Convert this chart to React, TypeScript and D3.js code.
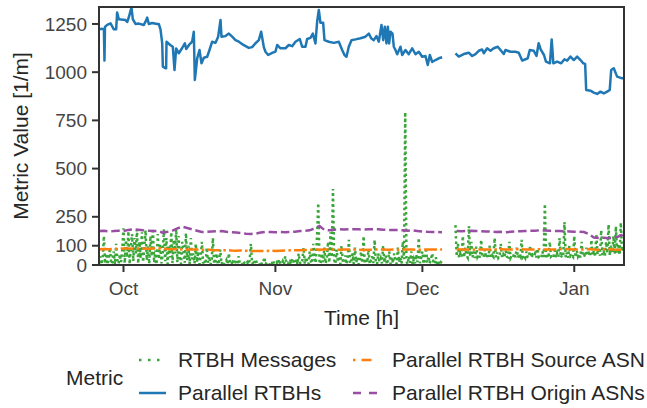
import React from 'react';
import * as d3 from 'd3';

const W = 647;
const H = 408;
const M = { left: 99, right: 23, top: 7, bottom: 143 };

const START = new Date(2022, 8, 26, 0, 0, 0);
const SPAN_DAYS = 107.15;
const DAY_MS = 86400000;

const yTickValues = [0, 100, 250, 500, 750, 1000, 1250];
const xTickLabels = ['Oct', 'Nov', 'Dec', 'Jan'];
const xTickDates = [new Date(2022, 9, 1), new Date(2022, 10, 1), new Date(2022, 11, 1), new Date(2023, 0, 1)];

// Parallel RTBHs: [day offset from START, value]
const parallelRtbhs: [number, number | null][] = [
  [0.05,1222],[0.6,1225],[1.0,1222],[1.12,1060],[1.22,1235],[1.67,1245],[2.35,1253],[3.03,1222],[3.5,1222],[3.7,1309],
  [4.05,1274],[5.4,1270],[5.75,1260],[6.09,1285],[6.63,1336],[6.9,1275],[7.45,1250],[8.13,1252],[9.15,1245],[9.49,1262],
  [9.83,1283],[10.17,1250],[10.85,1255],[11.87,1250],[12.2,1250],[12.55,1222],[12.9,1151],[13.03,1029],[13.57,1020],[13.7,1020],
  [13.78,1158],[14.6,1140],[15.07,1132],[15.41,1011],[15.75,1123],[16.29,1098],[16.84,1120],[17.52,1150],[17.8,1120],[18.33,1140],
  [19.01,1158],[19.35,1210],[19.56,960],[20.04,1072],[20.51,1115],[20.92,1046],[21.39,1075],[22.08,1080],[22.55,1115],[23.1,1158],
  [23.78,1152],[24.32,1184],[24.8,1271],[25.0,1184],[25.82,1187],[26.5,1200],[27.18,1184],[27.86,1166],[28.54,1158],[29.56,1140],
  [30.58,1126],[31.26,1130],[31.94,1150],[32.62,1166],[33.1,1210],[33.64,1130],[33.98,1106],[34.53,1089],[35.35,1100],[36.02,1107],
  [36.37,1141],[37.04,1124],[38.06,1124],[38.74,1141],[39.42,1135],[40.1,1158],[40.98,1172],[41.46,1132],[42.14,1132],[42.48,1172],
  [43.16,1178],[43.64,1200],[44.18,1149],[44.52,1262],[44.86,1323],[45.2,1256],[45.75,1256],[46.02,1166],[46.9,1158],[47.92,1152],
  [48.94,1158],[49.63,1115],[50.1,1089],[50.51,1080],[50.98,1132],[51.53,1166],[52.35,1170],[53.37,1176],[54.39,1184],[55.07,1200],
  [55.55,1176],[56.08,1166],[56.63,1187],[57.11,1158],[57.65,1245],[58.0,1166],[58.33,1236],[58.67,1149],[58.95,1236],[59.22,1149],
  [59.49,1210],[59.9,1200],[60.17,1132],[60.51,1115],[60.86,1093],[61.53,1132],[61.88,1089],[62.55,1115],[63.22,1093],[63.92,1124],
  [64.59,1093],[65.27,1106],[65.96,1080],[66.63,1084],[67.1,1037],[67.52,1089],[68.0,1053],[68.67,1063],[69.35,1072],[70.04,1077],
  [71.0,null],
  [72.76,1098],[73.43,1081],[74.45,1094],[75.47,1101],[76.16,1084],[76.84,1094],[77.51,1111],[78.2,1118],[78.54,1098],[79.22,1124],
  [79.9,1111],[80.57,1124],[81.39,1132],[81.94,1115],[82.61,1094],[82.96,1115],[83.98,1106],[85.0,1106],[85.67,1101],[86.37,1060],
  [87.04,1067],[87.5,1072],[87.92,1115],[88.73,1111],[89.29,1084],[89.73,1150],[90.14,1118],[90.82,1089],[91.22,1055],[92.04,1046],
  [92.39,1170],[92.73,1046],[93.5,1055],[94.33,1046],[95.0,1067],[95.55,1060],[96.22,1081],[96.9,1063],[97.59,1081],[98.27,1063],
  [98.82,1046],[99.22,1043],[99.43,908],[100.31,904],[100.98,894],[101.67,887],[102.35,899],[103.02,890],[103.71,899],[104.24,908],
  [104.53,1011],[105.06,1020],[105.75,977],[106.78,968],[107.15,970],
];

// RTBH Messages, one value every 6 hours from START (null = no data)
const GREEN_STEP_DAYS = 0.25;
const rtbhMessages: (number | null)[] = [
  12,45,3,28,150,8,60,2,35,90,5,18,70,4,110,25,6,55,15,80,
  190,10,130,40,175,5,95,160,20,140,60,185,8,120,35,170,15,90,180,25,
  100,6,150,45,190,12,75,3,160,30,110,8,55,185,20,140,5,95,40,170,
  10,130,60,185,15,150,35,5,120,80,12,165,25,100,4,140,30,60,8,110,
  15,70,3,40,120,8,25,5,90,12,45,2,30,140,6,20,60,3,15,80,
  5,18,2,10,25,4,60,8,3,15,6,30,2,12,45,5,9,3,20,7,
  4,15,2,25,110,6,12,3,30,5,8,2,18,4,10,40,3,15,6,2,
  12,3,25,5,8,15,2,30,6,4,20,3,45,8,12,2,18,5,35,10,
  8,30,4,60,12,5,25,90,6,40,15,3,70,20,8,110,35,10,150,321,
  20,5,60,15,90,8,35,120,12,170,40,394,25,6,80,15,45,5,100,20,
  10,50,4,30,130,8,20,60,5,90,15,40,3,25,70,10,150,6,35,12,
  80,5,25,45,10,130,20,4,60,15,35,8,100,12,50,3,28,70,6,40,
  10,60,25,5,90,15,40,8,120,30,793,20,5,45,12,70,4,30,8,55,
  15,140,10,35,70,5,25,90,12,45,8,30,60,15,5,40,10,25,3,15,
  10,null,null,null,null,null,null,null,null,null,null,207,45,110,38,60,42,150,40,90,
  50,38,202,45,120,40,70,36,95,42,55,38,130,44,40,80,37,60,42,100,
  38,50,42,140,40,65,36,45,110,40,55,38,75,43,40,120,37,50,42,60,
  40,90,38,55,44,130,40,48,36,70,42,40,100,38,52,44,60,39,85,41,
  45,38,70,42,317,40,55,37,120,43,48,40,90,38,60,42,140,39,50,44,
  223,40,65,38,100,45,50,42,150,40,75,44,58,39,120,46,52,41,90,48,
  60,45,130,50,75,42,160,55,90,48,180,52,70,46,120,60,210,50,100,65,
  150,55,200,60,110,52,220,70,90,
];

// Parallel RTBH Source ASN, daily
const sourceAsn: (number | null)[] = [
  82,83,82,84,85,86,85,84,86,85,
  84,85,86,85,83,82,83,81,80,81,
  80,79,80,78,77,76,77,75,74,75,
  74,73,72,73,72,74,73,74,75,76,
  77,76,78,79,80,79,80,81,80,79,
  80,81,80,79,78,79,80,81,80,79,
  80,79,80,81,80,79,80,81,80,80,
  80,null,null,82,81,80,79,80,81,80,
  80,81,82,81,80,81,82,81,80,81,
  82,81,80,81,82,83,82,81,80,81,
  82,80,79,81,82,80,79,80,
];

// Parallel RTBH Origin ASNs, daily
const originAsns: (number | null)[] = [
  176,177,175,176,178,176,182,185,183,180,
  178,176,176,168,172,178,190,199,192,185,
  178,171,172,174,175,176,172,170,168,165,
  162,161,163,168,172,171,170,171,170,171,
  173,176,178,180,190,202,182,180,183,185,
  184,185,186,185,184,185,186,185,183,182,
  182,181,180,178,180,176,174,172,171,171,
  170,null,null,176,175,176,177,176,175,174,
  173,171,172,170,172,174,175,176,177,178,
  180,179,178,177,176,175,174,173,172,171,
  160,142,140,141,139,140,148,158,
];

const seriesNames = ['RTBH Messages', 'Parallel RTBHs', 'Parallel RTBH Source ASN', 'Parallel RTBH Origin ASNs'];
const seriesColors = ['#3aa63a', '#1f77b4', '#ff7f0e', '#984ea3'];

const FONT = '"Liberation Sans", Arial, Helvetica, sans-serif';
const TEXT_DARK = '#262626';
const TICK_TEXT = '#444444';
const SPINE = '#333333';

const dayToDate = (d: number) => new Date(START.getTime() + d * DAY_MS);

export default function App() {
  const x = d3.scaleTime()
    .domain([START, dayToDate(SPAN_DAYS)])
    .range([M.left, W - M.right]);
  const y = d3.scaleLinear().domain([0, 1338]).range([H - M.bottom, M.top]);

  type P = { d: number; v: number | null };
  const line = d3.line<P>()
    .defined((p) => p.v !== null)
    .x((p) => x(dayToDate(p.d)))
    .y((p) => y(p.v as number));

  const blue: P[] = parallelRtbhs.map(([d, v]) => ({ d, v }));
  const green: P[] = rtbhMessages.map((v, i) => ({ d: i * GREEN_STEP_DAYS, v }));
  const orange: P[] = sourceAsn.map((v, i) => ({ d: Math.min(i, SPAN_DAYS), v }));
  const purple: P[] = originAsns.map((v, i) => ({ d: Math.min(i, SPAN_DAYS), v }));

  const x0 = M.left;
  const x1 = W - M.right;
  const y0 = H - M.bottom;
  const y1 = M.top;

  const legendRows = [360, 393];
  const legendCols = [{ h0: 139, h1: 166, t: 178 }, { h0: 353, h1: 380, t: 392 }];
  const legendItems = [
    { name: seriesNames[0], color: seriesColors[0], dash: '2.5 6.5', col: 0, row: 0 },
    { name: seriesNames[1], color: seriesColors[1], dash: 'none', col: 0, row: 1 },
    { name: seriesNames[2], color: seriesColors[2], dash: '2.5 6 10 20', col: 1, row: 0 },
    { name: seriesNames[3], color: seriesColors[3], dash: '8 8', col: 1, row: 1 },
  ];

  const TICK_FS = 19;
  const LABEL_FS = 21;

  return (
    <svg width={W} height={H} style={{ position: 'absolute', left: 0, top: 0, background: '#fff' }}
      fontFamily={FONT}>
      <defs>
        <clipPath id="plotclip">
          <rect x={x0} y={y1} width={x1 - x0} height={y0 - y1} />
        </clipPath>
      </defs>
      <rect x={0} y={0} width={W} height={H} fill="#fff" />
      <g clipPath="url(#plotclip)" fill="none">
        <path d={line(green) || ''} stroke={seriesColors[0]} strokeWidth={2.5} strokeDasharray="2.5 3" />
        <path d={line(blue) || ''} stroke={seriesColors[1]} strokeWidth={2.5} strokeLinejoin="round" />
        <path d={line(orange) || ''} stroke={seriesColors[2]} strokeWidth={2.5} strokeDasharray="12.8 3.2 2.5 3.2" />
        <path d={line(purple) || ''} stroke={seriesColors[3]} strokeWidth={2.5} strokeDasharray="8.5 3.8" />
      </g>
      <rect x={x0} y={y1} width={x1 - x0} height={y0 - y1} fill="none" stroke={SPINE} strokeWidth={2} />
      {yTickValues.map((t) => (
        <g key={t}>
          <line x1={x0 - 7} x2={x0} y1={y(t)} y2={y(t)} stroke={SPINE} strokeWidth={2} />
          <text x={x0 - 12} y={y(t)} dy="0.35em" textAnchor="end" fontSize={TICK_FS} fill={TICK_TEXT}>{t}</text>
        </g>
      ))}
      {xTickDates.map((dt, i) => (
        <g key={i}>
          <line x1={x(dt)} x2={x(dt)} y1={y0} y2={y0 + 7} stroke={SPINE} strokeWidth={2} />
          <text x={x(dt)} y={y0 + 23} dy="0.35em" textAnchor="middle" fontSize={TICK_FS} fill={TICK_TEXT}>{xTickLabels[i]}</text>
        </g>
      ))}
      <text x={(x0 + x1) / 2} y={318} dy="0.35em" textAnchor="middle" fontSize={LABEL_FS} fill={TEXT_DARK}>Time [h]</text>
      <text transform={`translate(21,${(y0 + y1) / 2}) rotate(-90)`} dy="0.35em" textAnchor="middle" fontSize={LABEL_FS} fill={TEXT_DARK}>Metric Value [1/m]</text>
      <text x={66} y={378} dy="0.35em" fontSize={LABEL_FS} fill={TEXT_DARK}>Metric</text>
      {legendItems.map((it) => {
        const c = legendCols[it.col];
        const ry = legendRows[it.row];
        return (
          <g key={it.name}>
            <line x1={c.h0} x2={c.h1} y1={ry} y2={ry} stroke={it.color} strokeWidth={2.5}
              strokeDasharray={it.dash === 'none' ? undefined : it.dash} />
            <text x={c.t} y={ry} dy="0.35em" fontSize={LABEL_FS} fill={TEXT_DARK}>{it.name}</text>
          </g>
        );
      })}
    </svg>
  );
}
